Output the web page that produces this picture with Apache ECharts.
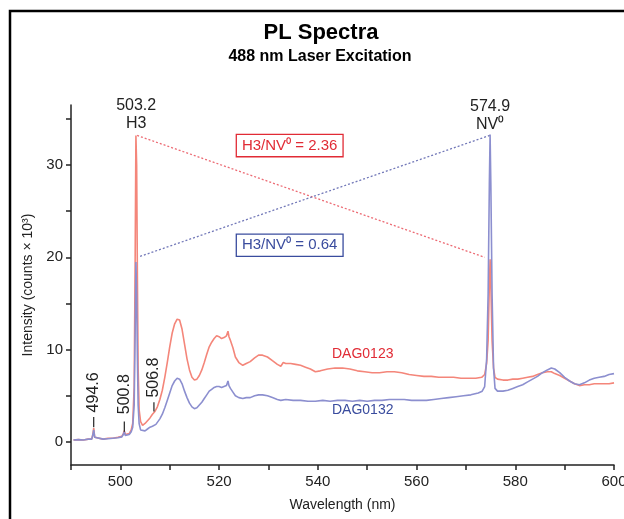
<!DOCTYPE html>
<html><head><meta charset="utf-8">
<script src="https://cdn.jsdelivr.net/npm/echarts@6/dist/echarts.min.js"></script>
<style>html,body{margin:0;padding:0;background:#fff}#c{width:624px;height:519px}</style>
</head><body><div id="c"></div>
<script>
// ---- data ----
const wl123 = [490.5,491.5,492.5,493.5,494.2,494.45,494.6,494.8,495.2,496.5,497.5,498.5,499.5,500.3,500.6,500.8,501.0,501.4,501.8,502.2,502.5,502.8,503.0,503.15,503.3,503.45,503.6,503.8,504.1,504.5,505.0,505.5,506.0,506.5,507.0,507.5,508.0,508.5,509.0,509.5,510.0,510.5,511.0,511.5,512.0,512.5,513.0,513.5,514.0,514.5,515.0,515.5,516.0,516.5,517.0,517.5,518.0,518.5,519.0,519.5,520.0,520.5,521.0,521.5,521.8,522.0,522.3,522.8,523.3,524.0,524.8,525.5,526.3,527.2,528.0,528.8,529.8,530.8,531.8,532.5,533.0,533.5,534.5,535.5,536.5,537.5,538.5,539.5,540.5,542.0,543.5,545.0,546.5,548.0,549.5,551.0,552.5,554.0,555.5,557.0,558.5,560.0,561.5,563.0,564.5,566.0,567.5,569.0,570.5,572.0,573.2,573.8,574.2,574.5,574.75,574.9,575.05,575.3,575.6,575.9,576.4,577.5,578.5,579.5,580.5,581.5,582.5,583.5,584.5,585.5,586.5,587.3,588.0,589.0,590.0,591.0,592.0,593.0,594.0,595.0,596.0,597.0,598.0,599.0,600.0];
const int123 = [0.2,0.25,0.2,0.3,0.3,0.9,1.5,0.5,0.3,0.3,0.4,0.4,0.5,0.6,0.9,1.2,0.8,0.8,0.9,1.3,2.0,6,20,33.2,30,18,8,3.5,2.2,1.8,2.0,2.3,2.6,3.0,3.3,3.8,4.6,5.6,7.0,8.6,10.3,11.8,12.8,13.3,13.2,12.2,10.6,9.0,7.8,7.0,6.7,6.8,7.2,7.8,8.6,9.5,10.3,10.8,11.2,11.5,11.4,11.2,11.3,11.5,12.0,11.4,11.0,10.2,9.2,8.6,8.3,8.5,8.7,9.1,9.4,9.4,9.2,8.8,8.4,8.2,8.6,8.5,8.5,8.4,8.3,8.1,7.9,7.6,7.7,7.9,8.0,8.0,7.9,7.7,7.6,7.5,7.5,7.6,7.6,7.5,7.3,7.2,7.1,7.1,7.0,7.0,7.0,6.9,6.9,6.9,7.0,7.3,8.5,11,17,19.8,17,11,8,7.0,6.8,6.7,6.7,6.8,6.8,6.9,7.0,7.1,7.3,7.5,7.6,7.6,7.4,7.2,6.9,6.6,6.3,6.1,6.2,6.2,6.3,6.3,6.3,6.3,6.4];
const wl132 = [490.5,491.5,492.5,493.5,494.2,494.45,494.6,494.8,495.2,496.5,497.5,498.5,499.5,500.3,500.6,500.8,501.0,501.4,501.8,502.2,502.5,502.8,503.0,503.15,503.3,503.45,503.6,503.8,504.1,504.5,505.0,505.5,506.0,506.5,506.8,507.2,507.6,508.0,508.5,509.0,509.5,510.0,510.5,511.0,511.5,512.0,512.5,513.0,513.5,514.0,514.5,515.0,515.5,516.0,516.5,517.0,517.5,518.0,518.5,519.0,519.5,520.0,520.5,521.0,521.5,521.8,522.0,522.3,522.8,523.3,524.0,524.8,525.5,526.3,527.2,528.0,528.8,529.8,530.8,531.8,532.5,533.5,535,536.5,538,539.5,541,542.5,544,545.5,547,548.5,550,551.5,553,554.5,556,557.5,559,560.5,562,563.5,565,566.5,568,569.5,571,572.5,573.3,573.8,574.2,574.5,574.75,574.9,575.05,575.3,575.6,575.9,576.4,577.5,578.5,579.5,580.5,581.5,582.5,583.5,584.5,585.5,586.5,587.3,588.0,589.0,590.0,591.0,592.0,593.0,594.0,595.0,596.0,597.0,598.0,599.0,600.0];
const int132 = [0.2,0.25,0.2,0.3,0.3,0.8,1.3,0.5,0.3,0.3,0.35,0.4,0.45,0.55,0.8,1.1,0.7,0.7,0.8,1.1,1.6,4,12,19.5,16,9,4,2.0,1.3,1.1,1.2,1.4,1.6,1.7,1.9,1.9,2.1,2.5,3.0,3.7,4.5,5.3,6.1,6.6,6.9,6.8,6.3,5.5,4.8,4.2,3.8,3.6,3.7,4.0,4.3,4.7,5.1,5.5,5.7,5.9,6.0,6.0,5.9,6.0,6.1,6.6,6.1,5.8,5.4,5.0,4.8,4.7,4.8,4.8,5.0,5.1,5.1,5.0,4.8,4.6,4.5,4.6,4.5,4.5,4.4,4.4,4.5,4.4,4.5,4.5,4.4,4.5,4.4,4.5,4.5,4.6,4.6,4.6,4.5,4.5,4.5,4.6,4.7,4.8,4.9,5.0,5.1,5.3,5.5,6.0,9,16,28,33.3,28,16,8,5.8,5.5,5.5,5.6,5.8,6.0,6.2,6.5,6.8,7.1,7.5,7.8,8.0,7.9,7.5,7.0,6.6,6.3,6.2,6.4,6.7,6.9,7.0,7.1,7.3,7.4];
// ratio guide lines (H3 peak -> NV0 peak)
const ratioRed = [[503.4, 33.2], [573.8, 20.0]];
const ratioBlue = [[504.0, 20.1], [574.8, 33.2]];
const xTicks = [490,500,510,520,530,540,550,560,570,580,590,600];
const xLabels = [500,520,540,560,580,600];
const yTicks = [0,5,10,15,20,25,30,35];
const yLabels = [0,10,20,30];
const peakTags = [['494.6', 494.6], ['500.8', 500.8], ['506.8', 506.8]];

const zip = (a,b) => a.map((v,i)=>[v,b[i]]);
const FONT = '"Liberation Sans", Arial, sans-serif';
const RED = '#f4867a', BLUE = '#8c8fcf';
const chart = echarts.init(document.getElementById('c'), null, {renderer:'canvas'});

const option = {
  animation: false,
  backgroundColor: '#fff',
  grid: {left: 71, right: 10, top: 105, bottom: 54, outerBoundsMode: 'none'},
  xAxis: {
    type: 'value', min: 490, max: 600, interval: 10,
    name: 'Wavelength (nm)', nameLocation: 'middle', nameGap: 33,
    nameTextStyle: {fontFamily: FONT, fontSize: 14, color: '#222'},
    axisLine: {show: true, onZero: false, lineStyle: {color: '#222', width: 1.5}},
    axisTick: {show: true, length: 5, customValues: xTicks, lineStyle: {color: '#222', width: 1.5}},
    axisLabel: {customValues: xLabels, fontFamily: FONT, fontSize: 15, color: '#222', margin: 9},
    splitLine: {show: false}
  },
  yAxis: {
    type: 'value', min: -2.5, max: 36.5,
    name: 'Intensity (counts \u00d7 10\u00b3)', nameLocation: 'middle', nameGap: 35,
    nameTextStyle: {fontFamily: FONT, fontSize: 14, color: '#222'},
    axisLine: {show: true, onZero: false, lineStyle: {color: '#222', width: 1.5}},
    axisTick: {show: true, length: 5, customValues: yTicks, lineStyle: {color: '#222', width: 1.5}},
    axisLabel: {customValues: yLabels, fontFamily: FONT, fontSize: 15, color: '#222', margin: 8},
    splitLine: {show: false}
  },
  series: [
    {name: 'DAG0123', type: 'line', data: zip(wl123, int123), showSymbol: false, symbol: 'none',
     lineStyle: {color: RED, width: 1.6}, z: 2},
    {name: 'DAG0132', type: 'line', data: zip(wl132, int132), showSymbol: false, symbol: 'none',
     lineStyle: {color: BLUE, width: 1.6}, z: 3},
    {name: 'ratioRed', type: 'line', data: ratioRed, showSymbol: false, symbol: 'none',
     lineStyle: {color: '#ec6b74', width: 1.3, type: [2, 2]}, z: 4},
    {name: 'ratioBlue', type: 'line', data: ratioBlue, showSymbol: false, symbol: 'none',
     lineStyle: {color: '#7278b8', width: 1.3, type: [2, 2]}, z: 4}
  ]
};
chart.setOption(option);

const px = (x, y) => chart.convertToPixel({gridIndex: 0}, [x, y]);
const g = [];
// frame
g.push({type: 'rect', shape: {x: 10, y: 11, width: 700, height: 600}, style: {fill: 'none', stroke: '#000', lineWidth: 2.5}, z: 10});
// titles
g.push({type: 'text', x: 321, y: 33, style: {text: 'PL Spectra', font: 'bold 22px ' + FONT, fill: '#000', align: 'center', verticalAlign: 'middle'}, z: 10});
g.push({type: 'text', x: 320, y: 57, style: {text: '488 nm Laser Excitation', font: 'bold 16px ' + FONT, fill: '#000', align: 'center', verticalAlign: 'middle'}, z: 10});
// peak labels
function peakLabel(xv, top, l1, l2) {
  const p = px(xv, top);
  g.push({type: 'text', x: p[0], y: p[1], style: {text: l1, font: '16px ' + FONT, fill: '#222', align: 'center', verticalAlign: 'middle'}, z: 10});
  g.push({type: 'text', x: p[0], y: p[1] + 18, style: {text: l2, font: '16px ' + FONT, fill: '#222', align: 'center', verticalAlign: 'middle'}, z: 10});
}
peakLabel(503.2, 36.4, '503.2', 'H3');
peakLabel(574.9, 36.3, '574.9', 'NV\u2070');
// small rotated peak tags
const tagBase = {'494.6': [1.6, 2.7, 3.2], '500.8': [1.1, 2.2, 3.0], '506.8': [3.3, 4.3, 4.8]};
peakTags.forEach(([t, xv]) => {
  const b = tagBase[t];
  const p0 = px(xv, b[0]), p1 = px(xv, b[1]), p2 = px(xv, b[2]);
  g.push({type: 'line', shape: {x1: p0[0], y1: p0[1], x2: p1[0], y2: p1[1]}, style: {stroke: '#222', lineWidth: 1.2}, z: 10});
  g.push({type: 'text', x: p2[0], y: p2[1], rotation: Math.PI / 2, style: {text: t, font: '16px ' + FONT, fill: '#222', align: 'left', verticalAlign: 'middle'}, z: 10});
});
// ratio boxes
function box(xv, yv, txt, col) {
  const p = px(xv, yv);
  g.push({type: 'text', x: p[0], y: p[1], style: {text: txt, font: '15px ' + FONT, fill: col, align: 'center', verticalAlign: 'middle',
    backgroundColor: '#fff', borderColor: col, borderWidth: 1.3, padding: [3, 5, 3, 5]}, z: 10});
}
box(534.3, 32.1, 'H3/NV\u2070 = 2.36', '#e12b35');
box(534.3, 21.3, 'H3/NV\u2070 = 0.64', '#3a4c9e');
// series labels
const l1 = px(549.1, 9.5), l2 = px(549.1, 3.4);
g.push({type: 'text', x: l1[0], y: l1[1], style: {text: 'DAG0123', font: '14px ' + FONT, fill: '#e12b35', align: 'center', verticalAlign: 'middle'}, z: 10});
g.push({type: 'text', x: l2[0], y: l2[1], style: {text: 'DAG0132', font: '14px ' + FONT, fill: '#3a4c9e', align: 'center', verticalAlign: 'middle'}, z: 10});
chart.setOption({graphic: {elements: g}});
</script></body></html>
